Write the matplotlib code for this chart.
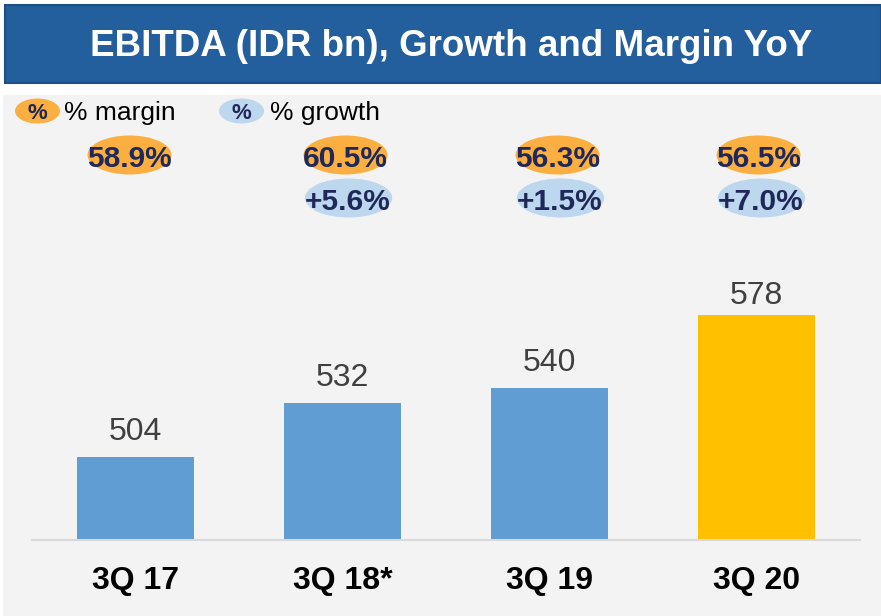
import matplotlib.pyplot as plt
from matplotlib.patches import Rectangle, Ellipse
from matplotlib.transforms import blended_transform_factory

plt.rcParams['font.family'] = ['Liberation Sans', 'DejaVu Sans']

# data
quarters = ["3Q 17", "3Q 18*", "3Q 19", "3Q 20"]
ebitda = [504, 532, 540, 578]
margin = ["58.9%", "60.5%", "56.3%", "56.5%"]
growth = [None, "+5.6%", "+1.5%", "+7.0%"]

bar_colors = ["#5F9DD2", "#5F9DD2", "#5F9DD2", "#FFC000"]
label_offsets = [7.5, 7.5, 7.5, 2.5]   # points above bar top
pct_shift = [-6, 3, 8, 2]              # px shift of the % bubbles
orange = "#FAAF40"
light_blue = "#BDD7EE"
navy = "#1F2858"

W, H = 881, 616
fig = plt.figure(figsize=(W / 100, H / 100), dpi=100)
fig.patch.set_facecolor("white")

# grey panel and title banner (figure pixel coords)
def px(x, y, w, h):
    return (x / W, 1 - (y + h) / H, w / W, h / H)

x0, y0, w0, h0 = px(3, 95, 878, 521)
fig.add_artist(Rectangle((x0, y0), w0, h0, transform=fig.transFigure,
                         facecolor="#F3F3F3", edgecolor="none", zorder=-10))
x0, y0, w0, h0 = px(5, 5, 876, 78)
fig.add_artist(Rectangle((x0, y0), w0, h0, transform=fig.transFigure,
                         facecolor="#235E9D", edgecolor="#1D4F85", lw=1.5, zorder=-10))
fig.text(451 / W, 1 - 47 / H, "EBITDA (IDR bn), Growth and Margin YoY",
         color="white", fontsize=26.5, fontweight="bold", ha="center", va="center")

# axes: x 32..860 px, y 95..540 px
ax = fig.add_axes(px(32, 95, 828, 445))
ax.set_facecolor("none")
xs = range(len(quarters))
ax.bar(xs, ebitda, width=0.57, color=bar_colors, zorder=2)
ax.set_xlim(-0.5, 3.5)
ax.set_ylim(461, 461 + 445 / 1.925)

for sp in ["top", "right", "left"]:
    ax.spines[sp].set_visible(False)
ax.spines["bottom"].set_color("#D9D9D9")
ax.spines["bottom"].set_linewidth(1.5)
ax.set_yticks([])
ax.set_xticks(list(xs))
ax.set_xticklabels(quarters, fontsize=23, fontweight="bold", color="black")
ax.tick_params(axis="x", length=0, pad=19)

for x, v, off in zip(xs, ebitda, label_offsets):
    ax.annotate(str(v), (x, v), xytext=(0, off), textcoords="offset points",
                ha="center", va="bottom", fontsize=23, color="#404040")

tr = blended_transform_factory(ax.transData, ax.transAxes)
dy = 4 / 445  # nudge text down so glyphs sit centred in the bubbles
ew, eh = 84 / 207, 39 / 445
y_m = (540 - 155) / 445
y_g = (540 - 198) / 445
for x, m, g, s in zip(xs, margin, growth, pct_shift):
    cx = x + s / 207
    ax.add_patch(Ellipse((cx, y_m), ew, eh, transform=tr, facecolor=orange,
                         edgecolor="none", clip_on=False, zorder=1))
    ax.text(cx, y_m - dy, m, transform=tr, ha="center", va="center", fontsize=21.5,
            fontweight="bold", color=navy, zorder=3)
    if g:
        ax.add_patch(Ellipse((cx + 3 / 207, y_g), ew * 1.04, eh, transform=tr,
                             facecolor=light_blue, edgecolor="none",
                             clip_on=False, zorder=1))
        ax.text(cx + 2 / 207, y_g - dy, g, transform=tr, ha="center", va="center",
                fontsize=21.5, fontweight="bold", color=navy, zorder=3)

# legend
y_l = (540 - 111) / 445
for cx, col, label, tx in [(37, orange, "% margin", 64), (241, light_blue, "% growth", 270)]:
    ax.add_patch(Ellipse(((cx - 135) / 207, y_l), 45 / 207, 25 / 445, transform=tr,
                         facecolor=col, edgecolor="none", clip_on=False, zorder=1))
    ax.text((cx - 135) / 207, y_l - dy * 0.75, "%", transform=tr, ha="center", va="center",
            fontsize=16, fontweight="bold", color=navy, zorder=3)
    ax.text((tx - 135) / 207, y_l - dy * 0.5, label, transform=tr, ha="left", va="center",
            fontsize=19, color="black", zorder=3)

fig.savefig("out.png", dpi=100)
